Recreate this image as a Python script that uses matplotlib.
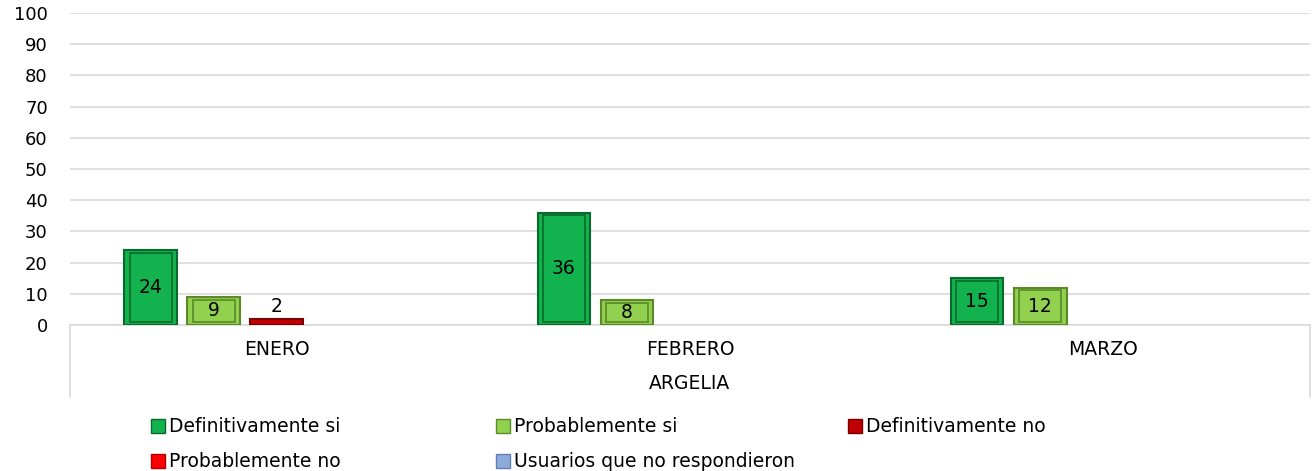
import matplotlib
matplotlib.use('Agg')
import matplotlib.pyplot as plt
from matplotlib.patches import Patch
import numpy as np

# monthly survey answers for ARGELIA
meses = ['ENERO', 'FEBRERO', 'MARZO']
grupo = 'ARGELIA'
series = ['Definitivamente si', 'Probablemente si', 'Definitivamente no',
          'Probablemente no', 'Usuarios que no respondieron']
def_si = [24, 36, 15]
prob_si = [9, 8, 12]
def_no = [2, 0, 0]
prob_no = [0, 0, 0]
no_resp = [0, 0, 0]
valores = [def_si, prob_si, def_no, prob_no, no_resp]

colores = ['#12b24e', '#92d050', '#c00000', '#ff0000', '#8eaadb']
bordes = ['#0a6a2d', '#5a8a28', '#7a0000', '#b00000', '#5f7fb5']

fig = plt.figure(figsize=(13.16, 4.71), dpi=100)
ax = fig.add_axes([0.0532, 0.31, 0.9422, 0.6624])

x = np.arange(len(meses))
paso = 0.1525
ancho = 0.127

for i, vals in enumerate(valores):
    for xi, v in zip(x, vals):
        if v == 0:
            continue
        p = xi + (i - 2) * paso
        ax.bar(p, v, width=ancho, color=colores[i], edgecolor=bordes[i],
               linewidth=1.5, zorder=3)
        # inner bevel
        if v > 3:
            ax.bar(p, v - 1.8, width=ancho * 0.8, bottom=0.9, color=colores[i],
                   edgecolor=bordes[i], linewidth=1.2, zorder=4)
        yl = v / 2 if v >= 5 else v + 4
        ax.text(p, yl, str(v), ha='center', va='center', fontsize=13.5,
                color='black', zorder=5)

ax.set_xlim(-0.5, 2.5)
ax.set_ylim(0, 100)
ax.set_yticks(range(0, 101, 10))
ax.tick_params(axis='y', length=0, labelsize=13, pad=16)
ax.set_xticks([])
ax.grid(axis='y', color='#d9d9d9', linewidth=1.2, zorder=0)
for s in ['top', 'right', 'left']:
    ax.spines[s].set_visible(False)
ax.spines['bottom'].set_color('#d9d9d9')
ax.spines['bottom'].set_linewidth(1.2)

# category axis frame below the plot
for xe in [0, 1]:
    ax.plot([xe, xe], [0, -0.23], transform=ax.transAxes, color='#d9d9d9',
            linewidth=1.2, clip_on=False)
for xi, m in zip(x, meses):
    ax.text(xi, -0.077, m, transform=ax.get_xaxis_transform(), ha='center',
            va='center', fontsize=13.5)
ax.text(0.5, -0.186, grupo, transform=ax.transAxes, ha='center', va='center',
        fontsize=13.5)

# legend placed in three columns
handles = [Patch(facecolor=c, edgecolor=b) for c, b in zip(colores, bordes)]
cols = [[0, 3], [1, 4], [2]]
xs = [0.109, 0.371, 0.639]
for xc, idx in zip(xs, cols):
    fig.legend([handles[k] for k in idx], [series[k] for k in idx],
               loc='upper left', bbox_to_anchor=(xc, 0.13), frameon=False,
               fontsize=13.5, handlelength=0.75, handleheight=0.75,
               handletextpad=0.2, labelspacing=0.85, borderaxespad=0)

fig.savefig('out.png', dpi=100)
